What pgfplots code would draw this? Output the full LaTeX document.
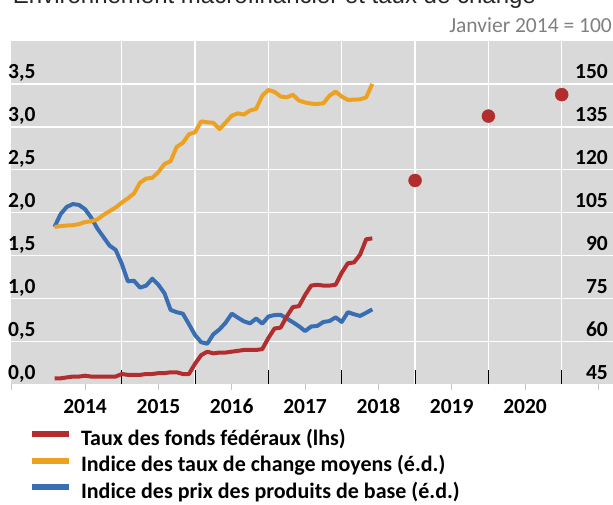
\documentclass[border=0pt]{standalone}
\usepackage{pgfplots}
\pgfplotsset{compat=1.18}
\usepackage{pgfplotstable}
\usepackage{fontspec}
\setmainfont{Carlito}
\newfontfamily\titlefont{Liberation Sans}
\definecolor{bgg}{HTML}{D9D9D9}
\definecolor{cred}{HTML}{B22D2D}
\definecolor{corange}{HTML}{EDA123}
\definecolor{cblue}{HTML}{3A6EB2}
\definecolor{cgraytxt}{HTML}{7F7F7F}

\pgfplotstableread{
m v
1 0.07
2 0.07
3 0.08
4 0.09
5 0.09
6 0.10
7 0.09
8 0.09
9 0.09
10 0.09
11 0.09
12 0.12
13 0.11
14 0.11
15 0.11
16 0.12
17 0.12
18 0.13
19 0.13
20 0.14
21 0.14
22 0.12
23 0.12
24 0.24
25 0.34
26 0.38
27 0.36
28 0.37
29 0.37
30 0.38
31 0.39
32 0.40
33 0.40
34 0.40
35 0.41
36 0.54
37 0.65
38 0.66
39 0.79
40 0.90
41 0.91
42 1.04
43 1.15
44 1.16
45 1.15
46 1.15
47 1.16
48 1.30
49 1.41
50 1.42
51 1.51
52 1.69
53 1.70
}\fedfunds

\pgfplotstableread{
m v
60 2.375
72 3.125
84 3.375
}\fomcdots

\pgfplotstableread{
m v
1 100
2 100.3
3 100.5
4 100.6
5 101
6 101.7
7 102
8 102.6
9 104.2
10 105.5
11 106.8
12 108.5
13 110
14 111.7
15 115.5
16 116.9
17 117.2
18 119.2
19 122
20 123
21 128
22 129.4
23 132.4
24 133.1
25 136.9
26 136.6
27 136.4
28 134.2
29 136.5
30 138.9
31 139.7
32 139.3
33 140.7
34 141.3
35 145.9
36 147.9
37 147.2
38 145.6
39 145.3
40 146.2
41 144.2
42 143.5
43 143.1
44 143
45 143.2
46 145.9
47 147.3
48 145.6
49 144.4
50 144.5
51 144.6
52 145.3
53 150
}\fxindex

\pgfplotstableread{
m v
1 100
2 104.5
3 107
4 108
5 107.7
6 106.2
7 103.3
8 99.5
9 96.5
10 93.5
11 92
12 87.2
13 81
14 81.2
15 78.8
16 79.5
17 81.9
18 79.8
19 76.8
20 71
21 70.2
22 69.7
23 66
24 62.2
25 59.7
26 59.2
27 62.5
28 64.2
29 66.5
30 69.7
31 68.3
32 67
33 66.3
34 68
35 66.2
36 68.7
37 69.2
38 69.3
39 68
40 66.7
41 65.3
42 63.6
43 65.2
44 65.4
45 66.8
46 67.1
47 68.4
48 66.8
49 70.2
50 69.5
51 68.9
52 70
53 71.2
}\commod

\tikzset{lblfont/.style={font=\bfseries\fontsize{21.5}{24}\selectfont}}
\pgfplotsset{
  base/.style={at={(11pt,119.7pt)}, anchor=south west, scale only axis,
    width=602pt, height=343.3pt, xmin=-6.12, xmax=92.39},
}

\begin{document}
\begin{tikzpicture}[x=1pt,y=1pt]
\useasboundingbox (0,0) rectangle (613,504);
\clip (0,0) rectangle (613,504);

\node[anchor=base west, inner sep=0pt, font=\titlefont\fontsize{24}{28}\selectfont, text=black!85] at (12.7,500) {Environnement macrofinancier et taux de change};
\node[anchor=base east, inner sep=0pt, font=\fontsize{21.5}{24}\selectfont, text=cgraytxt] at (612,471) {Janvier 2014 = 100};

% background, grid, left labels, year labels
\begin{axis}[base, ymin=0, ymax=4,
  axis background/.style={fill=bgg},
  axis line style={draw=none},
  ytick={0,0.5,...,3.5}, ymajorgrids,
  xtick={-6,6,...,90}, xticklabels={,2014,2015,2016,2017,2018,2019,2020,},
  minor xtick={12,24,...,84}, xminorgrids,
  major grid style={white, line width=1.5pt},
  minor grid style={white, line width=1.5pt},
  tick align=outside, major tick length=6pt, minor tick length=0pt,
  xtick pos=left, ytick pos=left,
  x tick style={gray!45, line width=1pt}, y tick style={draw=none},
  yticklabel style={anchor=base west, inner sep=0pt, xshift=3pt, yshift=5pt, lblfont},
  xticklabel style={anchor=base, inner sep=0pt, yshift=-23pt, lblfont},
  yticklabel={\pgfmathprintnumber[fixed,fixed zerofill,precision=1,use comma,assume math mode=true]{\tick}},
]
\end{axis}

% right axis: commodity and exchange-rate indices
\begin{axis}[base, ymin=45, ymax=165,
  axis line style={draw=none},
  ytick={45,60,...,150}, ytick pos=right, yticklabel pos=right,
  y tick style={draw=none},
  yticklabel style={anchor=base east, inner sep=0pt, xshift=-5pt, yshift=5pt, lblfont},
  /pgf/number format/assume math mode=true,
  xtick={12,24,...,84}, xticklabel=\empty,
  tick align=inside, major tick length=14pt, xtick pos=left,
  x tick style={black, line width=1pt},
]
\addplot[cblue, line width=4pt, line join=round] table[x=m,y=v] {\commod};
\addplot[corange, line width=4pt, line join=round] table[x=m,y=v] {\fxindex};
\end{axis}

% left axis: fed funds
\begin{axis}[base, ymin=0, ymax=4, hide axis,
  legend image code/.code={\draw[line width=6pt] (0pt,5.5pt) -- (37pt,5.5pt);},
  legend cell align=left,
  legend style={draw=none, fill=none, at={(0.0299,-0.1302)}, anchor=north west,
    inner sep=0pt, outer sep=0pt,
    font=\bfseries\fontsize{22}{26}\selectfont, row sep=5.5pt,
    nodes={inner sep=0pt, text height=16pt, text depth=5pt},
    /tikz/every odd column/.append style={column sep=9pt}},
]
\addplot[cred, line width=4pt, line join=round] table[x=m,y=v] {\fedfunds};
\addlegendentry{Taux des fonds fédéraux (lhs)}
\addplot[cred, only marks, mark=*, mark size=6.5pt, forget plot] table[x=m,y=v] {\fomcdots};
\addlegendimage{corange}
\addlegendentry{Indice des taux de change moyens (é.d.)}
\addlegendimage{cblue}
\addlegendentry{Indice des prix des produits de base (é.d.)}
\end{axis}
\end{tikzpicture}
\end{document}
